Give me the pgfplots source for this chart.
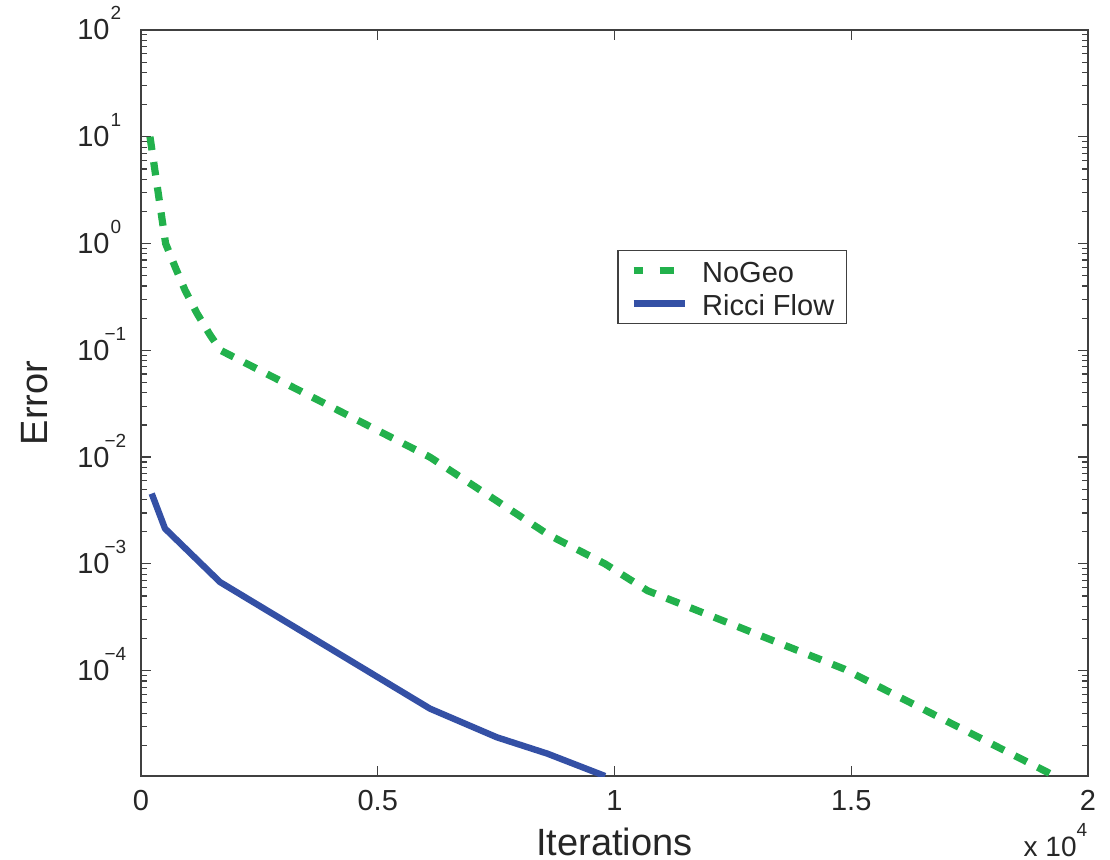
\documentclass[border=0pt]{standalone}
\usepackage{pgfplots}
\pgfplotsset{compat=1.18}
\usepackage{fontspec}
\setmainfont{Liberation Sans}
\definecolor{ngreen}{RGB}{34,177,76}
\definecolor{rblue}{RGB}{52,80,165}
\definecolor{txt}{RGB}{38,38,38}
\newcommand{\tp}[1]{10\rlap{\smash{\kern0.5pt\raisebox{10pt}{\fontsize{9.5}{9.5}\selectfont #1}}}}
\newcommand{\tn}[1]{10\rlap{\smash{\kern-2.5pt\raisebox{10pt}{\fontsize{9.5}{9.5}\selectfont\char"2212\relax #1}}}}
\begin{document}
\begin{tikzpicture}
\begin{axis}[
  name=ax,
  scale only axis,
  width=473.5pt, height=373pt,
  ymode=log,
  xmin=0, xmax=2, ymin=1.03e-5, ymax=100,
  xtick={0,0.5,1,1.5,2},
  xticklabels={0,0.5,1,1.5,2},
  ytick={1e-4,1e-3,1e-2,1e-1,1,10,100},
  yticklabels={\tn{4},\tn{3},\tn{2},\tn{1},\tp{0},\tp{1},\tp{2}},
  minor ytick={2e-5,3e-5,4e-5,5e-5,6e-5,7e-5,8e-5,9e-5,
    2e-4,3e-4,4e-4,5e-4,6e-4,7e-4,8e-4,9e-4,
    2e-3,3e-3,4e-3,5e-3,6e-3,7e-3,8e-3,9e-3,
    2e-2,3e-2,4e-2,5e-2,6e-2,7e-2,8e-2,9e-2,
    0.2,0.3,0.4,0.5,0.6,0.7,0.8,0.9,
    2,3,4,5,6,7,8,9,
    20,30,40,50,60,70,80,90},
  tick align=inside,
  major tick length=5pt, minor tick length=3pt,
  axis line style={black!75, line width=0.6pt},
  every tick/.style={black!75, line width=0.6pt},
  every minor tick/.style={black!75, line width=0.6pt},
  every tick label/.append style={font=\fontsize{14.5}{17}\selectfont, text=txt},
  xticklabel style={anchor=north, inner sep=0pt, yshift=-7pt},
  yticklabel style={anchor=east, inner sep=0pt, xshift=-15.5pt},
  legend style={at={(0.503,0.705)}, anchor=north west, draw=black!75, line width=0.6pt,
    fill=white, inner xsep=6pt, inner ysep=3.5pt, row sep=3.5pt,
    font=\fontsize{14.5}{17}\selectfont, text=txt,
    nodes={inner sep=0pt, text height=12.5pt, text depth=0.5pt},
    /tikz/every odd column/.append style={column sep=7pt}},
  legend cell align=left,
  legend image code/.code={\draw[#1] (0pt,0pt) -- (25.5pt,0pt);},
]
\addplot[ngreen, line width=3.6pt, dash pattern=on 6.75pt off 6pt,
  legend image post style={dash pattern=on 7.2pt off 8.3pt, dash phase=2.5pt}] coordinates {
  (0.019,10) (0.052,1.0) (0.072,0.605) (0.093,0.366) (0.118,0.223) (0.146,0.139)
  (0.168,0.1) (0.610,0.01) (0.86,1.88e-3) (0.98,1.0e-3) (1.07,5.6e-4)
  (1.484,1.04e-4) (1.93,1.03e-5)
};
\addlegendentry{NoGeo}
\addplot[rblue, line width=3.2pt, line join=round] coordinates {
  (0.0226,4.55e-3) (0.0507,2.14e-3) (0.1669,6.75e-4) (0.6105,4.4e-5)
  (0.752,2.37e-5) (0.858,1.67e-5) (0.98,1.03e-5)
};
\addlegendentry{Ricci Flow}
\end{axis}
\node[anchor=base, font=\fontsize{19}{22}\selectfont, text=txt, inner sep=0pt] at ([yshift=-39.5pt]ax.south) {Iterations};
\node[rotate=90, anchor=base, font=\fontsize{19}{22}\selectfont, text=txt, inner sep=0pt] at ([xshift=-46.5pt]ax.west) {Error};
\node[anchor=base east, font=\fontsize{14}{16}\selectfont, text=txt, inner sep=0pt] at ([xshift=-5.5pt,yshift=-40pt]ax.south east) {x 10\rlap{\smash{\raisebox{10pt}{\fontsize{9.5}{9.5}\selectfont 4}}}};
\pgfresetboundingbox
\path[use as bounding box] ([shift={(-70.5pt,-41.5pt)}]ax.south west) rectangle ([shift={(484.5pt,388pt)}]ax.south west);
\end{tikzpicture}
\end{document}
